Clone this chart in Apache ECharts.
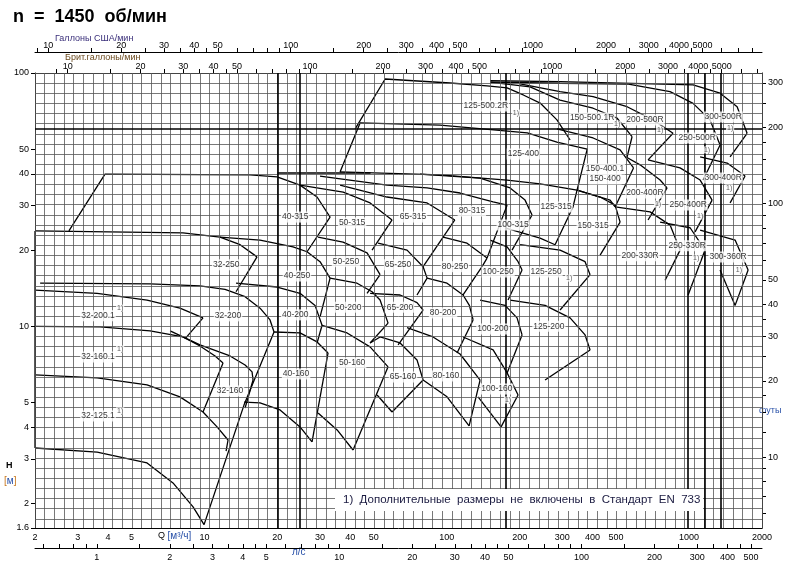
<!DOCTYPE html>
<html><head><meta charset="utf-8">
<script src="https://cdn.jsdelivr.net/npm/echarts@6/dist/echarts.min.js"></script>
<style>html,body{margin:0;padding:0;background:#fff}#c{width:793px;height:577px}</style>
</head><body><div id="c"></div>
<script>
// ---------- axis tick values ----------
const qTicks = [2,3,4,5,10,20,30,40,50,100,200,300,400,500,1000,2000];
const lsTicks = [1,2,3,4,5,10,20,30,40,50,100,200,300,400,500];
const lsMinor = [0.6,0.7,0.8,0.9,1,1.5,2,2.5,3,3.5,4,4.5,5,6,7,8,9,10,15,20,25,30,35,40,45,50,60,70,80,90,100,150,200,250,300,350,400,450,500];
const galTicks = [10,20,30,40,50,100,200,300,400,500,1000,2000,3000,4000,5000];
const galMinor = [9,10,15,20,25,30,35,40,45,50,60,70,80,90,100,150,200,250,300,350,400,450,500,600,700,800,900,1000,1500,2000,2500,3000,3500,4000,4500,5000,6000,7000,8000];
const hTicks = [1.6,2,3,4,5,10,20,30,40,50,100];
const ftTicks = [10,20,30,40,50,100,200,300];
const ftMinor = [6,7,8,9,10,12.5,15,17.5,20,25,30,35,40,50,60,70,80,90,100,125,150,175,200,250,300];
const boldQ = [20,24.7,176,985,1164,1356];
const boldH = [60.5];

// ---------- pump tiles: polylines of [Q m3/h, H m] ----------
const p32_125_1 = [[[2,6.43],[3.61,6.26],[5.8,5.87],[7.93,5.27],[9.87,4.59],[11.28,4.01],[12.52,3.56],[12.29,3.22]],
                   [[2,3.31],[3.61,3.19],[5.8,2.89],[7.42,2.41],[8.98,1.94],[9.97,1.65]],
                   [[2,23.8],[2,3.31]]];
const p32_160_1 = [[[2,10.0],[3.71,9.95],[5.97,9.59],[8.16,9.08],[9.59,8.37],[11.07,7.64],[11.94,7.17]],
                   [[11.94,7.17],[9.87,4.59]]];
const p32_160 = [[[7.22,9.59],[9.59,8.45],[12.76,7.64],[14.72,7.04],[15.73,6.61],[15.88,6.14]],
                 [[15.88,6.14],[14.72,4.76]]];
const p32_200_1 = [[[2,13.9],[3.61,13.5],[5.8,12.7],[7.93,11.8],[9.87,10.8]],
                   [[9.87,10.8],[8.32,8.92]]];
const p32_200 = [[[2.1,14.8],[5.97,14.7],[9.59,14.45],[12.17,14.0],[14.72,13.1],[16.97,11.8],[18.66,10.6],[19.38,9.50]],
                 [[9.97,1.65],[14.58,4.90],[19.38,9.50]]];
const p32_250 = [[[2,23.8],[8.16,23.4],[11.6,22.5],[14.04,21.0],[16.49,18.8]],
                 [[16.49,18.8],[13.51,13.7]]];
const p40_315 = [[[2.76,23.8],[3.89,39.9],[15.43,39.6],[19.95,38.9],[24.81,36.1],[29.17,32.4],[33.01,27.0],[26.52,19.7]],
                 [[19.95,40.3],[48.5,40.3]]];
const p40_250 = [[[11.6,22.5],[16.97,21.9],[23.22,20.6],[26.52,19.7],[30.01,18.0],[33.01,15.5]],
                 [[33.01,15.5],[30.01,10.9]]];
const p40_200 = [[[13.51,14.8],[19.95,14.3],[24.81,13.5],[28.62,12.1],[30.59,10.1]],
                 [[30.59,10.1],[29.17,8.60]]];
const p40_160 = [[[19.38,9.50],[24.81,9.42],[29.17,8.68],[32.38,7.85]],
                 [[32.38,7.85],[27.81,3.50]],
                 [[14.58,5.02],[16.97,4.99],[20.52,4.68],[24.81,4.01],[27.81,3.50]]];
const p50_315 = [[[24.8,36.1],[37.4,33.9],[48.3,30.7],[59.5,26.3]],[[59.5,26.3],[49.2,20.0]]];
const p50_250 = [[[29.45,22.5],[37.35,21.5],[46.91,19.5],[53.09,16.0]],[[53.09,16.0],[46.91,13.5]]];
const p50_200 = [[[33.01,15.5],[42.66,14.8],[49.2,13.7],[53.09,12.7],[57.28,10.3]],[[57.28,10.3],[48.27,8.60]]];
const p50_160 = [[[30.59,10.1],[38.8,9.42],[48.27,8.30],[57.28,6.92]],[[57.28,6.92],[41.07,3.25]],[[29.45,4.55],[35.3,3.90],[41.07,3.25]]];
const p65_315 = [[[36.3,36.1],[56.7,32.4],[83.0,30.7],[100,27.5],[108,26.3]],[[108,26.3],[79.9,17.2]]];
const p65_250 = [[[52.1,21.3],[68.6,20.0],[79.9,17.2]],[[79.9,17.2],[83.0,15.5],[75.4,13.3]]];
const p65_200 = [[[48.3,13.5],[64.2,13.3],[75.4,12.4],[79.9,11.6]],[[79.9,11.6],[63.0,8.45]]];
const p65_160 = [[[48.3,8.6],[53.1,9.08],[64.2,8.6],[75.4,7.37],[79.9,6.14]],[[79.9,6.14],[59.5,4.59]],[[51.6,5.36],[59.5,4.59]]];
const p80_315 = [[[30.0,39.2],[56.7,36.1],[83.0,35.2],[113.5,33.6],[155.4,31.0],[177.5,30.1]],[[177.5,30.1],[146.7,18.6]]];
const p80_250 = [[[96.6,22.5],[121.3,21.3],[146.7,18.6]],[[146.7,18.6],[139.9,17.2],[116.8,13.3]]];
const p80_200 = [[[83.0,15.5],[100.3,14.8],[116.8,13.3],[124,12.1],[128.5,10.6]],[[128.5,10.6],[110.3,7.85]]];
const p80_160 = [[[68.6,9.88],[87.8,9.08],[113.5,7.78],[137.3,6.14]],[[137.3,6.14],[123.7,4.05]],[[79.9,6.14],[100.3,5.27],[123.7,4.05]]];
const p100_315 = [[[77.6,39.9],[137.3,38.5],[182.6,35.2],[210.5,31.5],[225,27.5]],[[225,27.5],[186,20.0]]];
const p100_250 = [[[151,21.9],[177.5,20.6],[197,18.0],[204.6,16.7]],[[204.6,16.7],[179.1,12.7]]];
const p100_200 = [[[137.3,12.7],[174.1,12.1],[195.1,10.8],[204.6,9.25]],[[204.6,9.25],[177.5,6.55]]];
const p100_160 = [[[116.8,9.08],[155.4,8.07],[177.5,6.55],[197,5.36]],[[197,5.36],[167.6,4.01]],[[134.7,5.27],[167.6,4.01]]];
const p125_500 = [[[41.9,60.2],[55.7,94.7],[103.2,91.3],[146.7,88.9],[177.5,87.3],[207,81.9],[243,76.1],[285,65.3],[323,54.4]]];
const p125_400 = [[[36.3,40.7],[43.9,63.5],[93.9,62.3],[215,58.0],[285,53.4],[380,50.1],[345,34.5]],
                  [[36.3,40.7],[93.9,39.6],[177.5,37.8],[243,36.5],[345,34.5]]];
const p125_315 = [[[345,34.5],[332,29.6],[280,21.0]],[[174,24.5],[242.8,22.3],[280,21.0]]];
const p125_250 = [[[200.8,21.0],[293.6,20.0],[372.3,18.0],[390.5,16.0]],[[390.5,16.0],[293.6,11.6]]];
const p125_200 = [[[182.6,12.7],[254.6,12.1],[322.9,10.8],[372.3,9.25],[390.5,8.07]],[[390.5,8.07],[254.6,6.14]]];
const p150_315 = [[[345,34.5],[429.5,32.4],[495.3,30.1],[519.4,25.8]],[[519.4,25.8],[429.5,19.1]]];
const p150_400 = [[[285,60.2],[401.8,55.4],[519.4,49.7],[590,42.2]],[[590,42.2],[495.3,29.6]],[[345,34.5],[472.3,31.5],[495.3,29.6]]];
const p150_500 = [[[151,92.1],[220.8,88.1],[293.6,78.2],[401.8,72.6],[504.8,66.3],[582,56.1]],[[582,56.1],[555,46.6]]];
const p200_500 = [[[200.8,90.5],[293.6,84.4],[401.8,80.6],[555,73.6],[710,65.3],[859,57.8]],[[859,57.8],[677.4,45.4]]];
const p250_500 = [[[151,92.1],[293.6,91.1],[555,90.5],[835,84.4],[1039,75.9],[1221,65.3],[1343,52.0]],[[1343,52.0],[1143,37.8]]];
const p300_500 = [[[151,93.2],[293.6,92.4],[1039,89.7],[1343,83.2],[1579,73.6],[1736,57.8]],[[1736,57.8],[1477,46.7]]];
const p200_400 = [[[549.8,46.6],[628,43.4],[759.5,37.8],[811.5,35.2]],[[811.5,35.2],[677.4,26.3]]];
const p250_400 = [[[677.4,45.4],[918,42.2],[1111,37.8],[1245,31.5]],[[1245,31.5],[1059,23.6]]];
const p300_400 = [[[1111,46.7],[1436,44.1],[1703,39.2]],[[1703,39.2],[1477,30.7]]];
const p200_330 = [[[495.3,29.6],[690.4,28.3],[835.2,25.1],[918.4,20.0]],[[918.4,20.0],[796.4,15.2]]];
const p250_330 = [[[759.5,25.8],[1010,24.5],[1164,20.0]],[[1164,20.0],[991,13.3]]];
const p300_360 = [[[1111,24.0],[1549,21.9],[1753,16.7]],[[1753,16.7],[1549,12.1]],[[1343,16.7],[1549,12.1]]];

const allTiles = [p32_125_1,p32_160_1,p32_160,p32_200_1,p32_200,p32_250,p40_315,p40_250,p40_200,p40_160,
  p50_315,p50_250,p50_200,p50_160,p65_315,p65_250,p65_200,p65_160,p80_315,p80_250,p80_200,p80_160,
  p100_315,p100_250,p100_200,p100_160,p125_500,p125_400,p125_315,p125_250,p125_200,p150_315,p150_400,
  p150_500,p200_500,p250_500,p300_500,p200_400,p250_400,p300_400,p200_330,p250_330,p300_360];

// ---------- pump names at [Q, H] ----------
const pumpLabels = [
 [3.64,4.43,'32-125.1'],[3.64,7.57,'32-160.1'],[3.64,11.0,'32-200.1'],[12.3,17.5,'32-250'],[12.52,11.0,'32-200'],[12.76,5.56,'32-160'],
 [23.7,27.0,'40-315'],[24.1,15.8,'40-250'],[23.7,11.1,'40-200'],[23.9,6.49,'40-160'],
 [40.7,25.6,'50-315'],[38.4,18.0,'50-250'],[39.2,11.9,'50-200'],[40.7,7.17,'50-160'],
 [72.6,27.0,'65-315'],[63.0,17.5,'65-250'],[64.2,11.9,'65-200'],[66.0,6.31,'65-160'],
 [127,28.5,'80-315'],[108.2,17.2,'80-250'],[96.6,11.3,'80-200'],[99.4,6.37,'80-160'],
 [188,25.1,'100-315'],[163,16.4,'100-250'],[155,9.77,'100-200'],[161,5.66,'100-160'],
 [283,29.6,'125-315'],[257,16.4,'125-250'],[264,10.0,'125-200'],[402,24.9,'150-315'],
 [207,47.9,'125-400'],[145,74.1,'125-500.2R'],[398,66.4,'150-500.1R'],[450,41.8,'150-400.1'],[450,38.2,'150-400'],
 [658,65.3,'200-500R'],[1080,55.4,'250-500R'],[1382,67.1,'300-500R'],[658,33.6,'200-400R'],[991,30.1,'250-400R'],
 [1382,38.5,'300-400R'],[628,19.0,'200-330R'],[982,20.8,'250-330R'],[1449,18.8,'300-360R']
];
const noteMarks = [[4.49,11.8],[4.49,8.14],[4.49,4.64],[179,5.12],[193,69.5],[505,62.9],[760,59.6],[1187,49.7],[1477,60.7],
  [745,30.4],[1111,27.2],[1463,35.2],[1070,18.6],[1606,16.7],[320,15.5]];

// ---------- grid ----------
const gridQ = []; for (let k = 0; k <= 75; k++) gridQ.push(2 * Math.pow(10, k / 25));
const gridH = []; for (let k = 5; k <= 50; k++) gridH.push(Math.pow(10, k / 25));

const FONT = 'Liberation Sans';
const fmt = v => String(+Number(v).toPrecision(5));
const series = [];
series.push({type:'line', data:[[2,1.6]], symbol:'none', lineStyle:{opacity:0}, silent:true, z:1,
  markLine:{silent:true, symbol:['none','none'], label:{show:false}, animation:false,
    lineStyle:{color:'#555', width:0.8, type:'solid'},
    data: gridQ.map(v=>({xAxis:v})).concat(gridH.map(v=>({yAxis:v})))}});
series.push({type:'line', data:[[2,1.6]], symbol:'none', lineStyle:{opacity:0}, silent:true, z:2,
  markLine:{silent:true, symbol:['none','none'], label:{show:false}, animation:false,
    lineStyle:{color:'#000', width:1.6, type:'solid'},
    data: boldQ.map(v=>({xAxis:v})).concat(boldH.map(v=>({yAxis:v})))}});
allTiles.forEach(tile => tile.forEach(pl => series.push({type:'line', data:pl, showSymbol:false, symbol:'none',
  lineStyle:{color:'#000', width:1.3}, silent:true, z:3, animation:false})));
series.push({type:'scatter', symbolSize:0, z:6, silent:true, data:pumpLabels,
  label:{show:true, position:'inside', formatter:p=>p.data[2], fontSize:8.5, fontFamily:FONT, color:'#000',
  backgroundColor:'#fff', padding:[1,1]}});
series.push({type:'scatter', symbolSize:0, z:6, silent:true, data:noteMarks,
  label:{show:true, position:'inside', formatter:'1)', fontSize:7, fontFamily:FONT, color:'#333',
  backgroundColor:'#fff', padding:[0,1]}});

const axText = {fontSize:9, color:'#000', fontFamily:FONT};
const option = {
  animation:false,
  grid:{left:35, right:31, top:73, bottom:49},
  xAxis:[
    {type:'log', min:2, max:2000, position:'bottom', axisLine:{show:true,lineStyle:{color:'#000',width:1}},
     axisTick:{show:false}, splitLine:{show:false}, minorSplitLine:{show:false},
     axisLabel:Object.assign({customValues:qTicks, margin:5, formatter:fmt}, axText)},
    {type:'log', min:2/3.6, max:2000/3.6, position:'bottom', offset:20, axisLine:{show:true,lineStyle:{color:'#000',width:1}},
     axisTick:{show:true, customValues:lsMinor, inside:true, length:4, lineStyle:{color:'#000'}}, splitLine:{show:false},
     axisLabel:Object.assign({customValues:lsTicks, margin:5, formatter:fmt}, axText)},
    {type:'log', min:2/0.2271, max:2000/0.2271, position:'top', offset:21, axisLine:{show:true,lineStyle:{color:'#000',width:1}},
     axisTick:{show:true, customValues:galMinor, length:4, lineStyle:{color:'#000'}}, splitLine:{show:false},
     axisLabel:Object.assign({customValues:galTicks, margin:2, formatter:fmt}, axText)},
    {type:'log', min:2/0.2728, max:2000/0.2728, position:'top', offset:0, axisLine:{show:true,lineStyle:{color:'#000',width:1}},
     axisTick:{show:true, customValues:galMinor, length:4, lineStyle:{color:'#000'}}, splitLine:{show:false},
     axisLabel:Object.assign({customValues:galTicks, margin:2, formatter:fmt}, axText)}
  ],
  yAxis:[
    {type:'log', min:1.6, max:100, position:'left', axisLine:{show:true,lineStyle:{color:'#000',width:1}},
     axisTick:{show:true, customValues:hTicks, length:4, lineStyle:{color:'#000'}}, splitLine:{show:false},
     axisLabel:Object.assign({customValues:hTicks, margin:6, formatter:fmt}, axText)},
    {type:'log', min:1.6/0.3048, max:100/0.3048, position:'right', axisLine:{show:true,lineStyle:{color:'#000',width:1}},
     axisTick:{show:true, customValues:ftMinor, length:4, lineStyle:{color:'#000'}}, splitLine:{show:false},
     axisLabel:Object.assign({customValues:ftTicks, margin:6, formatter:fmt}, axText)}
  ],
  series: series,
  graphic:[
    {type:'text', left:13, top:8, style:{text:'n  =  1450  об/мин', font:'bold 18px "Liberation Sans"', fill:'#000'}},
    {type:'text', left:55, top:34, style:{text:'Галлоны США/мин', font:'9px "Liberation Sans"', fill:'#3a2f7a'}},
    {type:'text', left:65, top:53, style:{text:'Брит.галлоны/мин', font:'9px "Liberation Sans"', fill:'#6b4a1e'}},
    {type:'text', left:158, top:531, style:{text:'Q {b|[м³/ч]}', font:'9px "Liberation Sans"', fill:'#000',
      rich:{b:{fontSize:10, fill:'#2850a8', fontFamily:FONT}}}},
    {type:'text', left:292, top:547, style:{text:'л/с', font:'10px "Liberation Sans"', fill:'#2850a8'}},
    {type:'text', left:6, top:461, style:{text:'H', font:'bold 9px "Liberation Sans"', fill:'#000'}},
    {type:'text', left:4, top:476, style:{text:'{o|[}{m|м}{o|]}', font:'10px "Liberation Sans"',
      rich:{o:{fill:'#c8781e', fontSize:10, fontFamily:FONT}, m:{fill:'#2850a8', fontSize:10, fontFamily:FONT}}}},
    {type:'text', left:759, top:406, style:{text:'футы', font:'9px "Liberation Sans"', fill:'#2850a8'}},
    {type:'rect', shape:{x:335, y:489, width:368, height:22}, style:{fill:'#fff'}, z:20},
    {type:'text', left:343, top:494, z:21, style:{text:'1)  Дополнительные  размеры  не  включены  в  Стандарт  EN  733',
      font:'11.5px "Liberation Sans"', fill:'#1a1a40'}}
  ]
};
const chart = echarts.init(document.getElementById('c'));
chart.setOption(option);
</script></body></html>
